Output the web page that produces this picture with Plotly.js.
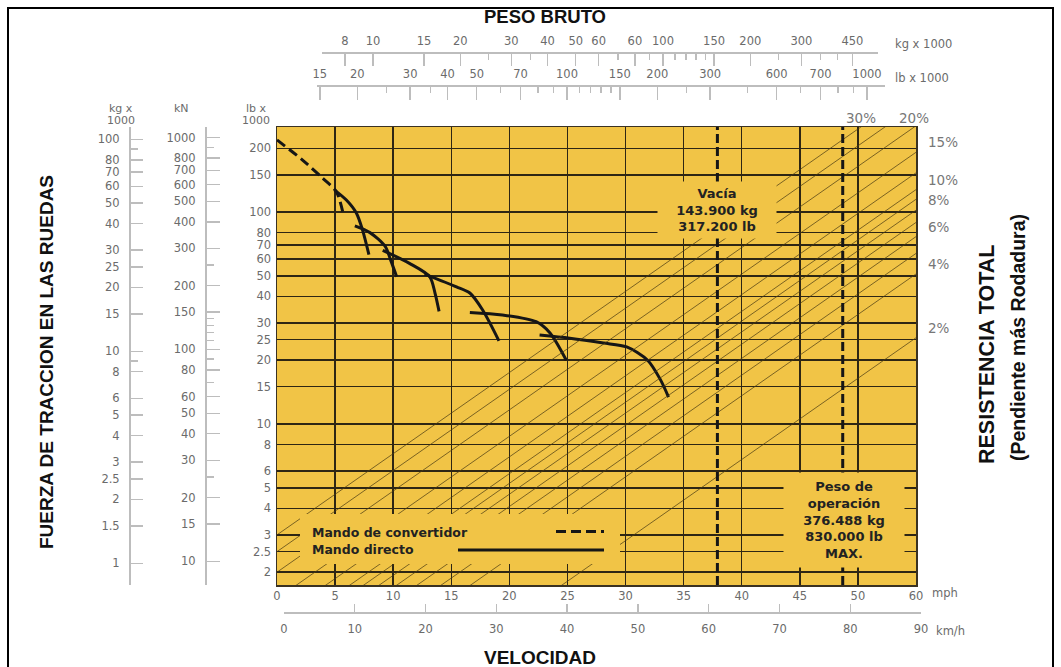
<!DOCTYPE html>
<html><head><meta charset="utf-8">
<script src="https://cdn.plot.ly/plotly-3.0.1.min.js"></script>
<style>html,body{margin:0;padding:0;background:#fff}</style>
</head><body>
<div id="chart" style="width:1061px;height:667px"></div>
<script>
// ---------------- data ----------------
const converterMph = [0, 2.2, 3.9, 5.1, 5.7];
const converterKlb = [219, 176, 145, 125, 98];
const gear1Mph = [4.96, 5.97, 6.83, 7.37, 7.91];
const gear1Klb = [127, 114, 99, 82, 63];
const gear2Mph = [6.7, 8.0, 9.3, 9.8, 10.3];
const gear2Klb = [86, 80, 69, 59, 49.5];
const gear3Mph = [9.1, 11.4, 13.15, 13.6, 13.95];
const gear3Klb = [66, 57.3, 49.5, 41.5, 34];
const gear4Mph = [12.7, 15.45, 16.6, 17.7, 19.1];
const gear4Klb = [51, 44.4, 41.5, 34.5, 24.7];
const gear5Mph = [16.6, 19.4, 22.3, 23.5, 24.9];
const gear5Klb = [33.6, 32.7, 30.4, 26.9, 20.0];
const gear6Mph = [22.6, 25.2, 28.1, 30.1, 31.9, 33.0, 33.7];
const gear6Klb = [26.3, 25.4, 24.1, 23.1, 20.0, 16.2, 13.4];

const resistancePct = [2, 4, 5, 6, 7, 8, 9, 10, 12, 15, 20, 25, 30];
const rightPctLabels = [2, 4, 6, 8, 10, 15];
const topPctLabels = [30, 20];

const emptyWeightKlb = 317.2;
const operatingWeightKlb = 830;

const mphTickVals = [0, 5, 10, 15, 20, 25, 30, 35, 40, 45, 50, 55];
const mphTickText = ["0", "5", "10", "15", "20", "25", "30", "35", "40", "45", "50", "60"];
const kmhTicks = [0, 10, 20, 30, 40, 50, 60, 70, 80, 90];

const lbTicks = [2, 2.5, 3, 4, 5, 6, 8, 10, 15, 20, 25, 30, 40, 50, 60, 70, 80, 100, 150, 200];
const kgLeftTicks = [1, 1.5, 2, 2.5, 3, 4, 5, 6, 8, 10, 15, 20, 25, 30, 40, 50, 60, 70, 80, 100];
const kgLeftMinor = [9, 90];
const knTicks = [10, 15, 20, 30, 40, 50, 60, 80, 100, 150, 200, 300, 400, 500, 600, 700, 800, 1000];
const knMinor = [25, 70, 90, 110, 120, 130, 140, 250, 900];

const kgTopTicks = [8, 10, 15, 20, 30, 40, 50, 60, 80, 100, 150, 200, 300, 450];
const kgTopText = ["8", "10", "15", "20", "30", "40", "50", "60", "60", "100", "150", "200", "300", "450"];
const kgTopMinor = [25, 35, 70, 90, 110, 120, 130, 140, 250, 350, 400];
const lbTopTicks = [15, 20, 30, 40, 50, 70, 100, 150, 200, 300, 500, 700, 1000];
const lbTopText = ["15", "20", "30", "40", "50", "70", "100", "150", "200", "300", "600", "700", "1000"];
const lbTopMinor = [25, 35, 60, 80, 90, 110, 120, 130, 140, 250, 400, 600, 800, 900];

// ---------------- styling / geometry ----------------
const W = 1061, H = 667;
const fx = p => p / W;
const fy = p => 1 - p / H;
const YELLOW = '#F1C446';
const GRID = '#2e2614';
const DIAG = 'rgba(75,60,20,0.8)';
const CURVE = '#161616';
const SCALE = '#6b6b6b';
const SCALELINE = '#bdbdbd';
const SF = 'DejaVu Sans, Liberation Sans, Arial, sans-serif';
const BF = 'Liberation Sans, Arial, sans-serif';
const NF = 'Liberation Sans Narrow, Arial Narrow, Liberation Sans, sans-serif';

const LB_PER_KG = 2.2046, KN_PER_KLB = 4.448;
const yRange = [Math.log10(1.74), Math.log10(252)];
const wRange = [1.0, 3.106];   // hidden weight axis (lb x 1000) used for the resistance lines
const wLo = Math.pow(10, wRange[0]), wHi = Math.pow(10, wRange[1]);

// ---------------- traces ----------------
const traces = [];
resistancePct.forEach(p => traces.push({
  type: 'scatter', mode: 'lines', xaxis: 'x6', yaxis: 'y',
  x: [wLo, wHi], y: [p / 100 * wLo, p / 100 * wHi],
  line: {color: DIAG, width: 0.9}, hoverinfo: 'skip'
}));
traces.push({type: 'scatter', mode: 'lines', x: converterMph, y: converterKlb,
  line: {color: CURVE, width: 3, dash: '10px,5px', shape: 'spline', smoothing: 0.8}, hoverinfo: 'skip'});
[[gear1Mph, gear1Klb], [gear2Mph, gear2Klb], [gear3Mph, gear3Klb], [gear4Mph, gear4Klb],
 [gear5Mph, gear5Klb], [gear6Mph, gear6Klb]].forEach(g => traces.push({
  type: 'scatter', mode: 'lines', x: g[0], y: g[1],
  line: {color: CURVE, width: 3, shape: 'spline', smoothing: 0.8}, hoverinfo: 'skip'
}));
// empty traces so every extra axis gets its subplot
[['x', 'y2'], ['x', 'y3'], ['x3', 'y4'], ['x4', 'y5'], ['x5', 'y6']].forEach(a =>
  traces.push({type: 'scatter', mode: 'lines', x: [], y: [], xaxis: a[0], yaxis: a[1], hoverinfo: 'skip'}));

// ---------------- annotations ----------------
const ann = [];
function txt(text, x, y, o) {
  ann.push(Object.assign({text: text, x: fx(x), y: fy(y), xref: 'paper', yref: 'paper',
    showarrow: false, xanchor: 'center', yanchor: 'middle',
    font: {family: SF, size: 11, color: SCALE}}, o || {}));
}
txt('<b>PESO BRUTO</b>', 545, 17, {font: {family: BF, size: 18.5, color: '#111'}});
txt('kg x 1000', 893, 44, {xanchor: 'left', font: {family: SF, size: 11.5, color: SCALE}});
txt('lb x 1000', 893, 78, {xanchor: 'left', font: {family: SF, size: 11.5, color: SCALE}});
txt('kg x', 121, 108); txt('1000', 121, 120);
txt('kN', 181, 108);
txt('lb x', 256, 108); txt('1000', 256, 120);
txt('mph', 930, 593, {xanchor: 'left', font: {family: SF, size: 11.5, color: SCALE}});
txt('km/h', 934, 631, {xanchor: 'left', font: {family: SF, size: 11.5, color: SCALE}});
txt('<b>VELOCIDAD</b>', 540, 657, {font: {family: BF, size: 19, color: '#111'}});
txt('<b>FUERZA DE TRACCION EN LAS RUEDAS</b>', 46, 362, {textangle: -90, font: {family: NF, size: 19, color: '#111'}});
txt('<b>RESISTENCIA TOTAL</b>', 987, 355, {textangle: -90, font: {family: NF, size: 21.5, color: '#111'}});
txt('<b>(Pendiente más Rodadura)</b>', 1018, 338, {textangle: -90, font: {family: NF, size: 19.5, color: '#111'}});

// resistance labels (positioned where each line meets the plot edge)
rightPctLabels.forEach(p => ann.push({text: p + '%', xref: 'paper', x: fx(926), xanchor: 'left',
  yref: 'y', y: Math.log10(p / 100 * wHi), yanchor: 'middle', yshift: 10, showarrow: false,
  font: {family: SF, size: 13.5, color: '#777'}}));
topPctLabels.forEach(p => ann.push({text: p + '%', xref: 'x6', x: Math.log10(252 / (p / 100)), xanchor: 'center',
  yref: 'paper', y: fy(118), yanchor: 'middle', showarrow: false,
  font: {family: SF, size: 13.5, color: '#777'}}));

// boxed notes inside the chart
const boxFont = {family: SF, size: 13, color: '#222'};
ann.push({text: '<b>Vacía</b><br><b>143.900 kg</b><br><b>317.200 lb</b>', xref: 'paper', yref: 'paper',
  x: fx(717), y: fy(210), xanchor: 'center', yanchor: 'middle', showarrow: false,
  width: 118, height: 56, bgcolor: YELLOW, borderpad: 0, font: boxFont});
ann.push({text: '<b>Peso de</b><br><b>operación</b><br><b>376.488 kg</b><br><b>830.000 lb</b><br><b>MAX.</b>',
  xref: 'paper', yref: 'paper', x: fx(844), y: fy(520), xanchor: 'center', yanchor: 'middle', showarrow: false,
  width: 120, height: 94, bgcolor: YELLOW, borderpad: 0, font: boxFont});
txt('<b>Mando de convertidor</b>', 310, 532, {xanchor: 'left', font: {family: SF, size: 12.5, color: '#222'}});
txt('<b>Mando directo</b>', 310, 549, {xanchor: 'left', font: {family: SF, size: 12.5, color: '#222'}});

// ---------------- shapes ----------------
const shapes = [
  {type: 'rect', xref: 'paper', yref: 'paper', x0: fx(277), x1: fx(916), y0: fy(585), y1: fy(127),
   fillcolor: YELLOW, line: {width: 0}, layer: 'below'},
  {type: 'rect', xref: 'paper', yref: 'paper', x0: fx(300), x1: fx(620), y0: fy(564), y1: fy(514),
   fillcolor: YELLOW, line: {width: 0}, layer: 'above'},
  {type: 'line', xref: 'paper', yref: 'paper', x0: fx(556), x1: fx(604), y0: fy(531.5), y1: fy(531.5),
   line: {color: CURVE, width: 3, dash: '10px,5px'}, layer: 'above'},
  {type: 'line', xref: 'paper', yref: 'paper', x0: fx(458), x1: fx(604), y0: fy(550), y1: fy(550),
   line: {color: CURVE, width: 3}, layer: 'above'},
  {type: 'rect', xref: 'paper', yref: 'paper', x0: fx(8), x1: fx(1053), y0: fy(690), y1: fy(8),
   fillcolor: 'rgba(0,0,0,0)', line: {color: '#000', width: 2}, layer: 'above'}
];
[emptyWeightKlb, operatingWeightKlb].forEach(w => shapes.push({
  type: 'line', xref: 'x4', x0: w, x1: w, yref: 'paper', y0: fy(585), y1: fy(127),
  line: {color: CURVE, width: 3, dash: '9px,4px'}, layer: 'above'}));

// ---------------- layout ----------------
const scaleAxis = {showgrid: false, zeroline: false, showline: true, linecolor: SCALELINE, linewidth: 1.6,
  tickcolor: SCALELINE, tickwidth: 1.4, tickfont: {family: SF, size: 11.5, color: SCALE}};
const layout = {
  width: W, height: H, margin: {l: 0, r: 0, t: 0, b: 0},
  paper_bgcolor: '#fff', plot_bgcolor: 'rgba(0,0,0,0)', showlegend: false,
  font: {family: SF, size: 11, color: SCALE},
  xaxis: {domain: [fx(277), fx(916)], range: [0, 55], tickmode: 'array', tickvals: mphTickVals, ticktext: mphTickText,
    showgrid: true, gridcolor: GRID, gridwidth: 1.5, zeroline: false, showline: true, mirror: true,
    linecolor: '#3a3222', linewidth: 1.5, ticks: '', tickfont: {family: SF, size: 11.5, color: SCALE}, anchor: 'y'},
  yaxis: {domain: [fy(585), fy(127)], type: 'log', range: yRange, tickmode: 'array', tickvals: lbTicks,
    ticktext: lbTicks.map(String), showgrid: true, gridcolor: GRID, gridwidth: 1.5, zeroline: false,
    showline: true, mirror: true, linecolor: '#3a3222', linewidth: 1.5, ticks: '', ticklabelstandoff: 2,
    tickfont: {family: SF, size: 11.5, color: SCALE}, anchor: 'x'},
  yaxis2: Object.assign({}, scaleAxis, {overlaying: 'y', anchor: 'free', position: fx(129), side: 'left', type: 'log',
    range: [yRange[0] - Math.log10(LB_PER_KG), yRange[1] - Math.log10(LB_PER_KG)],
    tickmode: 'array', tickvals: kgLeftTicks, ticktext: kgLeftTicks.map(String), ticks: 'inside', ticklen: 12,
    ticklabelstandoff: 7, minor: {tickmode: 'array', tickvals: kgLeftMinor, ticks: 'inside', ticklen: 7, tickcolor: SCALELINE}}),
  yaxis3: Object.assign({}, scaleAxis, {overlaying: 'y', anchor: 'free', position: fx(205), side: 'left', type: 'log',
    range: [yRange[0] + Math.log10(KN_PER_KLB), yRange[1] + Math.log10(KN_PER_KLB)],
    tickmode: 'array', tickvals: knTicks, ticktext: knTicks.map(String), ticks: 'inside', ticklen: 13,
    ticklabelstandoff: 7, minor: {tickmode: 'array', tickvals: knMinor, ticks: 'inside', ticklen: 7, tickcolor: SCALELINE}}),
  xaxis3: Object.assign({}, scaleAxis, {domain: [fx(321.7), fx(878.3)], anchor: 'y4', side: 'top', type: 'log',
    range: [0.8231, 2.7424], tickmode: 'array', tickvals: kgTopTicks, ticktext: kgTopText, ticks: 'inside', ticklen: 12,
    ticklabelstandoff: 3, minor: {tickmode: 'array', tickvals: kgTopMinor, ticks: 'inside', ticklen: 6, tickcolor: SCALELINE}}),
  yaxis4: {domain: [fy(54) - 0.02, fy(54)], visible: false, range: [0, 1]},
  xaxis4: Object.assign({}, scaleAxis, {domain: [fx(317), fx(885)], anchor: 'y5', side: 'top', type: 'log',
    range: [2 - (567 - 317) / 300, 2 + (885 - 567) / 300], tickmode: 'array', tickvals: lbTopTicks, ticktext: lbTopText,
    ticks: 'inside', ticklen: 13, ticklabelstandoff: 3,
    minor: {tickmode: 'array', tickvals: lbTopMinor, ticks: 'inside', ticklen: 6, tickcolor: SCALELINE}}),
  yaxis5: {domain: [fy(87) - 0.02, fy(87)], visible: false, range: [0, 1]},
  xaxis5: Object.assign({}, scaleAxis, {domain: [fx(284), fx(921)], anchor: 'y6', side: 'bottom', range: [0, 90],
    tickmode: 'array', tickvals: kmhTicks, ticktext: kmhTicks.map(String), ticks: 'inside', ticklen: 8, ticklabelstandoff: 6}),
  yaxis6: {domain: [fy(612), fy(612) + 0.02], visible: false, range: [0, 1]},
  xaxis6: {overlaying: 'x', domain: [fx(277), fx(916)], type: 'log', range: wRange, visible: false, anchor: 'y'},
  annotations: ann,
  shapes: shapes
};

Plotly.newPlot('chart', traces, layout, {staticPlot: true, displayModeBar: false});
</script>
</body></html>
